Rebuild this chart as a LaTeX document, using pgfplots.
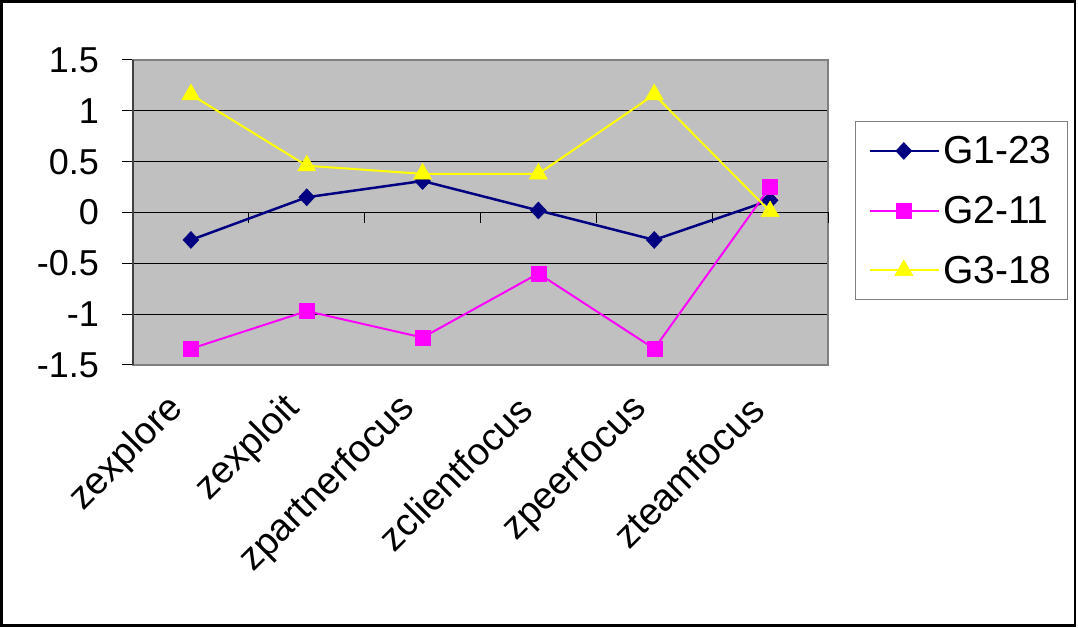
\documentclass[border=0pt]{standalone}
\usepackage{pgfplots}
\pgfplotsset{compat=1.18}
\usepackage{fontspec}
\setmainfont{Liberation Sans}
\definecolor{plotgrey}{HTML}{C0C0C0}
\definecolor{bordergrey}{HTML}{808080}
\definecolor{navyc}{HTML}{000080}
\definecolor{magc}{HTML}{FF00FF}
\definecolor{yelc}{HTML}{FFFF00}
\begin{document}
\begin{tikzpicture}[x=1pt,y=1pt]
\useasboundingbox (0,0) rectangle (1078,628);
\draw[line width=2.5pt] (1.5,2.5) rectangle (1075,626.5);
\begin{axis}[
  at={(133pt,263pt)}, anchor=south west,
  scale only axis, width=695pt, height=305pt,
  xmin=-0.5, xmax=5.5, ymin=-1.5, ymax=1.5,
  axis background/.style={fill=plotgrey},
  axis line style={bordergrey, line width=1.8pt},
  xtick={0,1,2,3,4,5},
  xticklabels={zexplore,zexploit,zpartnerfocus,zclientfocus,zpeerfocus,zteamfocus},
  ytick={-1.5,-1,-0.5,0,0.5,1,1.5},
  yticklabels={-1.5,-1,-0.5,0,0.5,1,1.5},
  ytick pos=left, xtick pos=bottom,
  tick align=outside,
  major tick length=11pt,
  xtick style={draw=none},
  ytick style={black, line width=1pt},
  ymajorgrids,
  grid style={black, line width=1pt},
  yticklabel style={font=\fontsize{36}{36}\selectfont, anchor=east, inner sep=0pt, xshift=-23pt},
  xticklabel style={font=\fontsize{38}{38}\selectfont, anchor=east, inner sep=0pt, xshift=-13pt, yshift=-27pt, rotate=45},
  legend style={at={(1.0388,0.8)}, anchor=north west, draw=bordergrey, line width=1.2pt,
    font=\fontsize{39}{39}\selectfont, inner xsep=13pt, inner ysep=12pt,
    row sep=25pt, nodes={inner sep=3pt}},
  legend cell align=left,
  legend image code/.code={\draw[mark repeat=2,mark phase=2] plot coordinates {(0pt,0pt) (34pt,0pt) (69pt,0pt)};},
  clip=false,
]
\draw[black, line width=1.2pt] (axis cs:-0.5,0) -- (axis cs:5.5,0);
\pgfplotsinvokeforeach{0.5,1.5,2.5,3.5,4.5,5.5}{\draw[black, line width=1pt] (axis cs:#1,0) -- ++(0pt,-11pt);}
\draw[black!75, line width=1.8pt] (axis cs:-0.5,-1.5) -- (axis cs:-0.5,1.5);
\addplot[navyc, line width=2.5pt, mark=diamond*, mark size=8.5pt, mark options={xscale=1.25, solid, fill=navyc, draw=navyc, line width=0.5pt}]
  coordinates {(0,-0.27) (1,0.15) (2,0.31) (3,0.02) (4,-0.27) (5,0.12)};
\addlegendentry{G1-23}
\addplot[magc, line width=2pt, mark=square*, mark size=7.5pt, mark options={solid, fill=magc, draw=magc, line width=0.5pt}]
  coordinates {(0,-1.34) (1,-0.97) (2,-1.23) (3,-0.60) (4,-1.34) (5,0.25)};
\addlegendentry{G2-11}
\addplot[yelc, line width=2pt, mark=triangle*, mark size=10.5pt, mark options={solid, fill=yelc, draw=yelc, line width=0.5pt}]
  coordinates {(0,1.16) (1,0.46) (2,0.38) (3,0.38) (4,1.16) (5,0.01)};
\addlegendentry{G3-18}
\end{axis}
\end{tikzpicture}
\end{document}
